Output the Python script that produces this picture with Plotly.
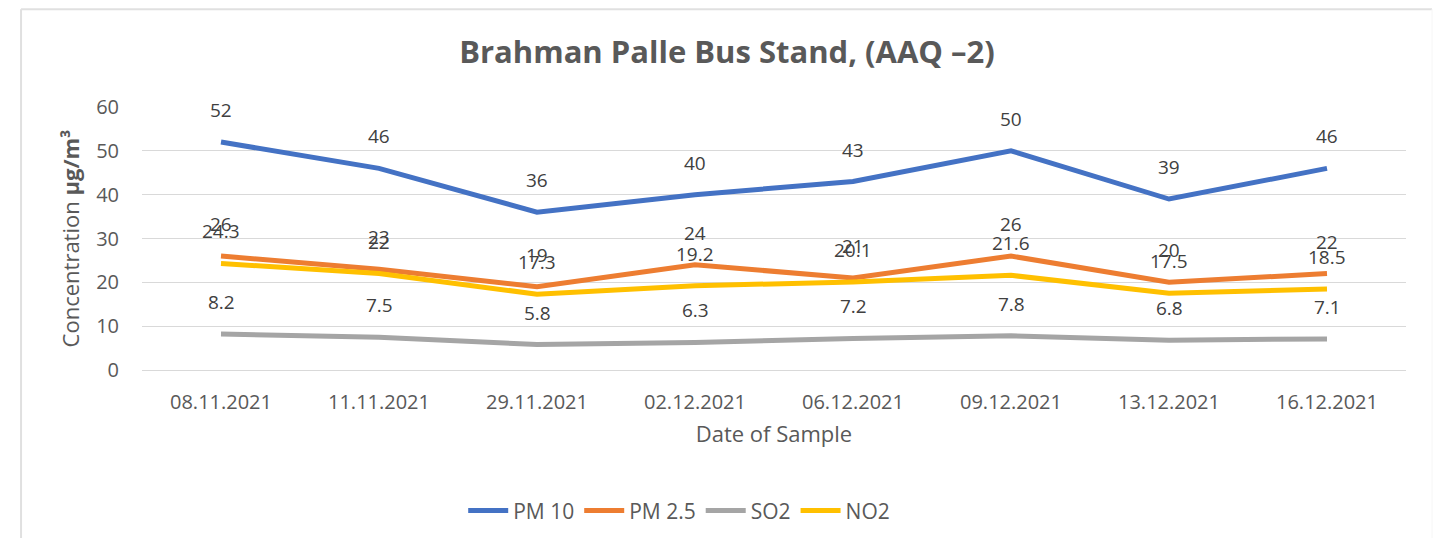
import plotly.graph_objects as go

DATES = ["08.11.2021", "11.11.2021", "29.11.2021", "02.12.2021",
         "06.12.2021", "09.12.2021", "13.12.2021", "16.12.2021"]
PM10 = [52, 46, 36, 40, 43, 50, 39, 46]
PM25 = [26, 23, 19, 24, 21, 26, 20, 22]
SO2 = [8.2, 7.5, 5.8, 6.3, 7.2, 7.8, 6.8, 7.1]
NO2 = [24.3, 22, 17.3, 19.2, 20.1, 21.6, 17.5, 18.5]

SERIES = [
    ("PM 10", PM10, "#4472C4"),
    ("PM 2.5", PM25, "#ED7D31"),
    ("SO2", SO2, "#A5A5A5"),
    ("NO2", NO2, "#FFC000"),
]

TEXT = "#595959"
FONT = "Open Sans"

fig = go.Figure()
for name, vals, color in SERIES:
    fig.add_trace(go.Scatter(
        x=DATES,
        y=vals,
        name=name,
        mode="lines",
        line=dict(color=color, width=5),
    ))
    # Excel-style data labels sitting well above each point
    for d, v in zip(DATES, vals):
        fig.add_annotation(
            x=d, y=v, text=f"{v:g}", showarrow=False,
            yshift=32, xanchor="center", yanchor="middle",
            font=dict(family=FONT, size=19, color="#404040"),
        )

# page body has an 8px margin, so the figure is sized/offset for that
fig.update_layout(
    width=1438,
    height=530,
    paper_bgcolor="white",
    plot_bgcolor="white",
    font=dict(family=FONT, size=18, color=TEXT),
    title=dict(text="<b>Brahman Palle Bus Stand, (AAQ \u20132)</b>",
               x=0.5, xanchor="center", y=0.917, yanchor="middle",
               font=dict(family=FONT, size=31, color=TEXT)),
    margin=dict(l=134, r=40, t=99, b=168),
    showlegend=True,
    legend=dict(orientation="h", x=0.425, xanchor="center",
                yref="container", y=0.051, yanchor="middle",
                itemwidth=40,
                font=dict(family=FONT, size=21, color=TEXT)),
)
fig.update_xaxes(
    type="category", range=[-0.5, 7.5], showgrid=False, showline=True,
    linecolor="#D9D9D9", ticks="", ticklabelstandoff=14, automargin=False,
    tickfont=dict(size=20, color=TEXT),
    title=dict(text="Date of Sample", font=dict(size=22, color=TEXT), standoff=12),
)
fig.update_yaxes(
    range=[0, 60], dtick=10, showgrid=True, gridcolor="#D9D9D9", gridwidth=1,
    zeroline=False, ticks="", ticklabelstandoff=22, automargin=False,
    tickfont=dict(size=20, color=TEXT),
    title=dict(text="Concentration <b>\u00b5g/m\u00b3</b>",
               font=dict(size=22, color=TEXT), standoff=10),
)

# chart frame: left and top edges visible, right edge faint
fig.add_shape(type="line", xref="paper", yref="paper",
              x0=-0.0957, x1=-0.0957, y0=-0.7, y1=1.372,
              line=dict(color="#E0E0E0", width=2))
fig.add_shape(type="line", xref="paper", yref="paper",
              x0=-0.0957, x1=1.0206, y0=1.372, y1=1.372,
              line=dict(color="#E0E0E0", width=2))
fig.add_shape(type="line", xref="paper", yref="paper",
              x0=1.0206, x1=1.0206, y0=-0.7, y1=1.372,
              line=dict(color="#F6F6F6", width=1))

fig.write_html("out.html")
